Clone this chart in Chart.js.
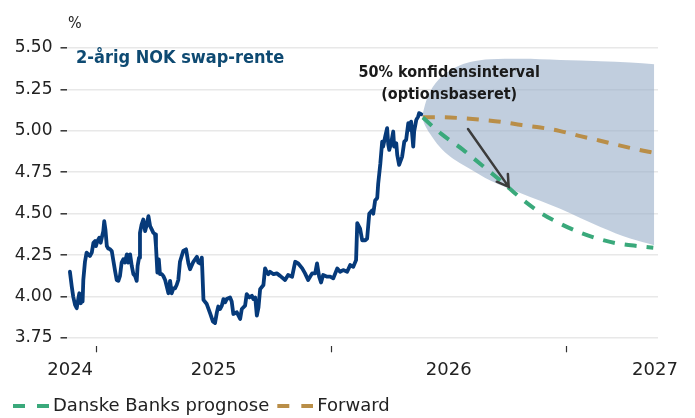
<!DOCTYPE html>
<html>
<head>
<meta charset="utf-8">
<script src="https://cdn.jsdelivr.net/npm/chart.js@4/dist/chart.umd.min.js"></script>
<style>
  html, body { margin: 0; padding: 0; background: #fff; }
  canvas { display: block; }
</style>
</head>
<body>
<canvas id="swap" width="695" height="418"></canvas>
<script>
// 2-year NOK swap rate: history, Danske Bank forecast, forward curve and option-implied 50% band.
// x values are decimal years.

const histYears = [
  2024.889, 2024.897, 2024.903, 2024.911, 2024.918, 2024.925, 2024.929, 2024.935, 2024.939, 2024.943,
  2024.946, 2024.953, 2024.960, 2024.967, 2024.974, 2024.982, 2024.989, 2024.996, 2025.000, 2025.006,
  2025.014, 2025.020, 2025.026, 2025.031, 2025.035, 2025.040, 2025.046, 2025.052, 2025.060, 2025.067,
  2025.074, 2025.081, 2025.088, 2025.095, 2025.102, 2025.109, 2025.116, 2025.123, 2025.131, 2025.137,
  2025.145, 2025.152, 2025.159, 2025.166, 2025.173, 2025.177, 2025.183, 2025.187, 2025.194, 2025.201,
  2025.209, 2025.216, 2025.223, 2025.230, 2025.237, 2025.244, 2025.251, 2025.255, 2025.261, 2025.267,
  2025.272, 2025.280, 2025.286, 2025.294, 2025.301, 2025.308, 2025.315, 2025.322, 2025.329, 2025.336,
  2025.343, 2025.350, 2025.357, 2025.371, 2025.383, 2025.393, 2025.400, 2025.414, 2025.429, 2025.435,
  2025.443, 2025.450, 2025.457, 2025.471, 2025.485, 2025.497, 2025.506, 2025.514, 2025.520, 2025.528,
  2025.535, 2025.542, 2025.549, 2025.556, 2025.570, 2025.577, 2025.584, 2025.599, 2025.606, 2025.613,
  2025.620, 2025.634, 2025.641, 2025.652, 2025.663, 2025.669, 2025.677, 2025.684, 2025.691, 2025.698,
  2025.712, 2025.719, 2025.726, 2025.733, 2025.740, 2025.755, 2025.769, 2025.783, 2025.804, 2025.817,
  2025.834, 2025.847, 2025.860, 2025.877, 2025.889, 2025.902, 2025.919, 2025.932, 2025.940, 2025.949,
  2025.957, 2025.966, 2025.983, 2025.996, 2026.009, 2026.026, 2026.038, 2026.051, 2026.068, 2026.081,
  2026.094, 2026.106, 2026.111, 2026.123, 2026.132, 2026.145, 2026.153, 2026.162, 2026.174, 2026.179,
  2026.187, 2026.196, 2026.200, 2026.209, 2026.217, 2026.221, 2026.230, 2026.238, 2026.243, 2026.247,
  2026.255, 2026.264, 2026.268, 2026.277, 2026.281, 2026.289, 2026.302, 2026.311, 2026.319, 2026.328,
  2026.332, 2026.340, 2026.349, 2026.353, 2026.362, 2026.370, 2026.374, 2026.383
];

const histRate = [
  4.15, 4.06, 4.00, 3.95, 3.93, 3.99, 4.02, 3.96, 4.01, 3.97,
  4.10, 4.21, 4.265, 4.255, 4.245, 4.265, 4.325, 4.335, 4.305, 4.335,
  4.355, 4.325, 4.365, 4.395, 4.455, 4.405, 4.305, 4.29, 4.285, 4.275,
  4.215, 4.155, 4.10, 4.095, 4.125, 4.205, 4.225, 4.205, 4.255, 4.205,
  4.255, 4.185, 4.135, 4.125, 4.095, 4.185, 4.235, 4.385, 4.435, 4.465,
  4.395, 4.435, 4.485, 4.425, 4.405, 4.385, 4.375, 4.305, 4.145, 4.225,
  4.135, 4.135, 4.125, 4.10, 4.06, 4.02, 4.095, 4.02, 4.05, 4.05,
  4.07, 4.10, 4.21, 4.275, 4.285, 4.20, 4.165, 4.21, 4.24, 4.205,
  4.20, 4.235, 3.98, 3.955, 3.90, 3.85, 3.84, 3.905, 3.94, 3.925,
  3.945, 3.985, 3.965, 3.985, 3.995, 3.97, 3.895, 3.905, 3.885, 3.865,
  3.925, 3.945, 4.015, 3.995, 4.005, 3.985, 3.995, 3.885, 3.935, 4.045,
  4.07, 4.17, 4.15, 4.135, 4.15, 4.135, 4.14, 4.125, 4.10, 4.13,
  4.12, 4.21, 4.20, 4.17, 4.14, 4.10, 4.14, 4.14, 4.20, 4.12,
  4.085, 4.13, 4.12, 4.12, 4.11, 4.17, 4.15, 4.16, 4.15, 4.19,
  4.18, 4.22, 4.443, 4.41, 4.34, 4.34, 4.35, 4.50, 4.52, 4.50,
  4.58, 4.595, 4.68, 4.80, 4.935, 4.905, 4.966, 5.016, 4.916, 4.885,
  4.925, 4.996, 4.905, 4.925, 4.855, 4.795, 4.845, 4.935, 4.946, 5.046,
  5.006, 5.056, 4.905, 4.996, 5.066, 5.086, 5.107, 5.10
];

// Forecast horizon (roughly monthly)
const fcYears = [2026.39, 2026.47, 2026.56, 2026.64, 2026.72, 2026.81, 2026.89, 2026.97, 2027.06, 2027.14, 2027.22, 2027.31, 2027.37];
const danskeForecast = [5.08, 4.98, 4.887, 4.794, 4.70, 4.59, 4.506, 4.443, 4.385, 4.347, 4.32, 4.304, 4.295];
const forwardRate = [5.082, 5.082, 5.076, 5.067, 5.055, 5.035, 5.02, 5.0, 4.968, 4.942, 4.914, 4.885, 4.868];

// Option-implied 50% confidence interval
const bandYears = [2026.387, 2026.404, 2026.426, 2026.451, 2026.485, 2026.532, 2026.591, 2026.677, 2026.804, 2026.974, 2027.145, 2027.272, 2027.374];
const bandUpper = [5.09, 5.18, 5.25, 5.30, 5.345, 5.385, 5.415, 5.432, 5.435, 5.428, 5.42, 5.412, 5.402];
const bandLower = [5.075, 5.02, 4.97, 4.92, 4.87, 4.82, 4.77, 4.70, 4.625, 4.53, 4.42, 4.35, 4.31];

// Axes
const yTicks = [3.75, 4.00, 4.25, 4.50, 4.75, 5.00, 5.25, 5.50];
const yearBoundaries = [2025, 2026, 2027];
const yearLabels = ['2024', '2025', '2026', '2027'];
const yearLabelAt = [2024.89, 2025.5, 2026.5, 2027.377];
const xMin = 2024.8745, xMax = 2027.39;

// Annotation anchors (data units)
const noteAt = { x: 2026.502, y: 5.325 };
const arrowFrom = { x: 2026.582, y: 5.011 };
const arrowTo = { x: 2026.755, y: 4.662 };

const COLORS = {
  hist: '#063a7a',
  danske: '#3aa97b',
  forward: '#b98e48',
  band: 'rgba(152,173,200,0.6)',
  title: '#0e4a72',
  text: '#222222',
  grid: '#e8e8e8',
  arrow: '#3c3c3c'
};

const pts = (xs, ys) => xs.map((v, i) => ({ x: v, y: ys[i] }));

// Dashed legend swatch (two dashes)
function dashSwatch(color) {
  const c = document.createElement('canvas');
  c.width = 41; c.height = 4;
  const g = c.getContext('2d');
  g.fillStyle = color;
  g.fillRect(5, 0, 12, 4);
  g.fillRect(29, 0, 12, 4);
  return c;
}
const swatches = { 1: dashSwatch(COLORS.danske), 2: dashSwatch(COLORS.forward) };

const notes = {
  id: 'notes',
  afterDatasetsDraw(chart) {
    const { ctx, chartArea: a, scales: { x, y } } = chart;
    ctx.save();
    ctx.textBaseline = 'alphabetic';

    ctx.fillStyle = COLORS.text;
    ctx.textAlign = 'left';
    ctx.font = '16px "DejaVu Sans Condensed", "DejaVu Sans"';
    ctx.fillText('%', a.left + 1.5, a.top - 20);

    ctx.fillStyle = COLORS.title;
    ctx.font = 'bold 18px "DejaVu Sans Condensed", "DejaVu Sans"';
    ctx.fillText('2-årig NOK swap-rente', a.left + 9.5, a.top + 14.5);

    ctx.fillStyle = '#1a1a1a';
    ctx.textAlign = 'center';
    ctx.font = 'bold 16px "DejaVu Sans Condensed", "DejaVu Sans"';
    const nx = x.getPixelForValue(noteAt.x), ny = y.getPixelForValue(noteAt.y);
    ctx.fillText('50% konfidensinterval', nx, ny);
    ctx.fillText('(optionsbaseret)', nx, ny + 21.5);

    const x0 = x.getPixelForValue(arrowFrom.x), y0 = y.getPixelForValue(arrowFrom.y);
    const x1 = x.getPixelForValue(arrowTo.x), y1 = y.getPixelForValue(arrowTo.y);
    const ang = Math.atan2(y1 - y0, x1 - x0);
    const head = 13, spread = 0.55;
    ctx.strokeStyle = COLORS.arrow;
    ctx.lineWidth = 2.5;
    ctx.lineCap = 'round';
    ctx.beginPath();
    ctx.moveTo(x0, y0);
    ctx.lineTo(x1, y1);
    ctx.moveTo(x1 - head * Math.cos(ang - spread), y1 - head * Math.sin(ang - spread));
    ctx.lineTo(x1, y1);
    ctx.lineTo(x1 - head * Math.cos(ang + spread), y1 - head * Math.sin(ang + spread));
    ctx.stroke();
    ctx.restore();
  }
};

Chart.defaults.font.family = '"DejaVu Sans", sans-serif';
Chart.defaults.color = COLORS.text;

new Chart(document.getElementById('swap'), {
  type: 'line',
  data: {
    datasets: [
      {
        label: '2-årig NOK swap-rente',
        data: pts(histYears, histRate),
        borderColor: COLORS.hist,
        borderWidth: 3.8,
        pointRadius: 0,
        tension: 0,
        borderJoinStyle: 'round',
        borderCapStyle: 'round',
        fill: false
      },
      {
        label: 'Danske Banks prognose',
        data: pts(fcYears, danskeForecast),
        borderColor: COLORS.danske,
        borderWidth: 4,
        borderDash: [12, 10],
        pointRadius: 0,
        cubicInterpolationMode: 'monotone',
        fill: false
      },
      {
        label: 'Forward',
        data: pts(fcYears, forwardRate),
        borderColor: COLORS.forward,
        borderWidth: 4,
        borderDash: [12, 10],
        pointRadius: 0,
        cubicInterpolationMode: 'monotone',
        fill: false
      },
      {
        label: 'upper',
        data: pts(bandYears, bandUpper),
        borderColor: 'rgba(0,0,0,0)',
        borderWidth: 0,
        backgroundColor: COLORS.band,
        pointRadius: 0,
        cubicInterpolationMode: 'monotone',
        fill: '+1'
      },
      {
        label: 'lower',
        data: pts(bandYears, bandLower),
        borderColor: 'rgba(0,0,0,0)',
        borderWidth: 0,
        pointRadius: 0,
        cubicInterpolationMode: 'monotone',
        fill: false
      }
    ]
  },
  options: {
    responsive: false,
    animation: false,
    devicePixelRatio: 1,
    layout: { padding: { top: 48, right: 37, left: 5, bottom: -7 } },
    plugins: {
      tooltip: { enabled: false },
      legend: {
        position: 'bottom',
        align: 'start',
        labels: {
          usePointStyle: true,
          pointStyleWidth: 31,
          padding: 8,
          color: COLORS.text,
          font: { size: 18 },
          filter: item => item.datasetIndex === 1 || item.datasetIndex === 2,
          generateLabels: chart => Chart.defaults.plugins.legend.labels.generateLabels(chart)
            .map(it => Object.assign(it, { pointStyle: swatches[it.datasetIndex] || it.pointStyle }))
        }
      }
    },
    scales: {
      x: {
        type: 'linear',
        min: xMin,
        max: xMax,
        weight: 0,
        afterBuildTicks: s => { s.ticks = yearBoundaries.map(v => ({ value: v })); },
        ticks: { display: false },
        grid: { drawOnChartArea: false, drawTicks: true, tickLength: 6, tickColor: '#333', tickWidth: 1.2 },
        border: { display: false }
      },
      xYears: {
        type: 'linear',
        position: 'bottom',
        min: xMin,
        max: xMax,
        weight: 1,
        afterBuildTicks: s => { s.ticks = yearLabelAt.map(v => ({ value: v })); },
        afterFit: s => { s.height = 36.7; },
        ticks: {
          autoSkip: false,
          maxRotation: 0,
          padding: -1,
          color: COLORS.text,
          font: { size: 18 },
          callback: (v, i) => yearLabels[i]
        },
        grid: { display: false },
        border: { display: false }
      },
      y: {
        min: 3.70,
        max: 5.50,
        afterBuildTicks: s => { s.ticks = yTicks.map(v => ({ value: v })); },
        afterFit: s => { s.width = 61.5; },
        ticks: {
          padding: 8,
          color: COLORS.text,
          font: { size: 17 },
          callback: v => v.toFixed(2)
        },
        grid: { color: COLORS.grid, lineWidth: 1.6, tickLength: 6, tickColor: '#333', tickWidth: 1.5 },
        border: { display: false }
      }
    }
  },
  plugins: [notes]
});
</script>
</body>
</html>
